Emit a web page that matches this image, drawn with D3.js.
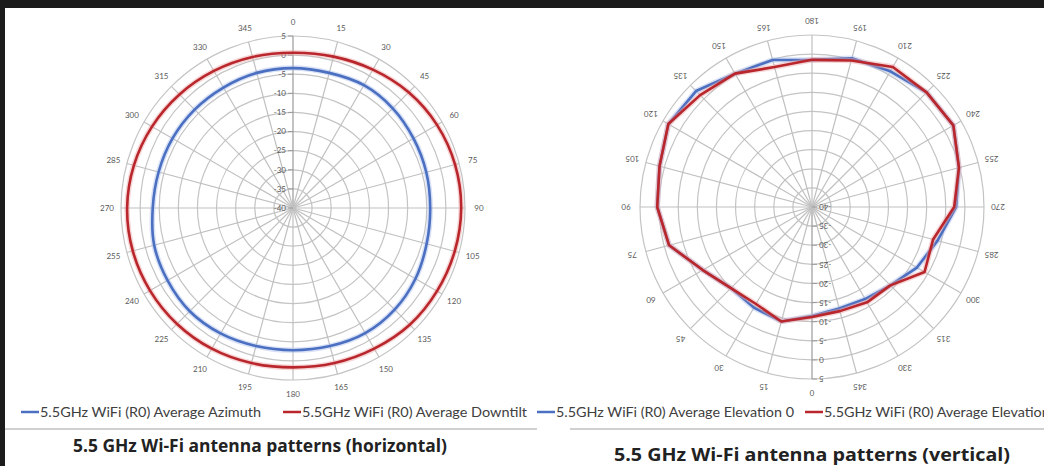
<!DOCTYPE html>
<html>
<head>
<meta charset="utf-8">
<script src="https://cdn.jsdelivr.net/npm/d3@7"></script>
<style>
  body { margin: 0; background: #fff; }
  svg { display: block; font-family: Lato, "Open Sans", sans-serif; }
</style>
</head>
<body>
<div id="chart"></div>
<script>
// angles of the spokes (degrees) and the dB rings
var angles = [0, 15, 30, 45, 60, 75, 90, 105, 120, 135, 150, 165, 180, 195, 210, 225, 240, 255, 270, 285, 300, 315, 330, 345];
var dbTicks = [5, 0, -5, -10, -15, -20, -25, -30, -35, -40];

// horizontal chart (dB per angle above)
var azimuth  = [-3.4, -3.4, -2.9, -3.1, -3.6, -3.9, -4.1, -3.8, -3.0, -2.4, -2.2, -2.6, -2.8, -2.6, -2.1, -1.8, -2.1, -2.4, -3.3, -3.6, -3.6, -3.6, -3.6, -3.4];
var downtilt = [0.6, 1.0, 1.8, 2.8, 3.5, 3.9, 4.0, 3.8, 3.5, 3.2, 2.5, 2.0, 1.7, 2.0, 2.5, 2.9, 3.2, 3.4, 3.4, 3.1, 2.6, 2.0, 1.4, 0.9];

// vertical chart
var elevation0  = [-11.5, -9, -9.6, -10, -7, -1.3, 0.5, 1.3, 3.4, 2.9, 0.3, -0.2, -1.5, 0.3, 1.0, 2.4, 2.7, -0.2, -2.3, -6, -8.3, -11, -12.2, -12.5];
var elevation90 = [-11.2, -9, -10.7, -10, -7, -1.3, 0.5, 1.3, 3.4, 1.4, 0.3, -2.1, -1.5, -0.3, 2.3, 2.4, 2.7, -0.2, -2.8, -7.2, -6, -11, -11.2, -11.8];

var legendLeft  = ["5.5GHz WiFi (R0) Average Azimuth", "5.5GHz WiFi (R0) Average Downtilt"];
var legendRight = ["5.5GHz WiFi (R0) Average Elevation 0", "5.5GHz WiFi (R0) Average Elevation 90"];
var titles = ["5.5 GHz Wi-Fi antenna patterns (horizontal)", "5.5 GHz Wi-Fi antenna patterns (vertical)"];

var blue = "#4b6fc1", red = "#b9262c";

var svg = d3.select("#chart").append("svg")
  .attr("width", 1044)
  .attr("height", 466);

svg.append("rect").attr("width", 1044).attr("height", 466).attr("fill", "#fff");
svg.append("rect").attr("width", 1044).attr("height", 8).attr("fill", "#1b1b1b");
svg.append("rect").attr("y", 0).attr("width", 5).attr("height", 466).attr("fill", "#1b1b1b");

var r = d3.scaleLinear().domain([-40, 5]).range([0, 172]);
var a = d3.scaleLinear().domain([0, 360]).range([0, 2 * Math.PI]);

function drawPolar(cx, cy, turn, series, curve) {
  var g = svg.append("g")
    .attr("transform", "translate(" + cx + "," + cy + ") rotate(" + turn + ")");

  g.selectAll(".ring").data(dbTicks).enter().append("circle")
    .attr("r", function(d) { return r(d); })
    .attr("fill", "none")
    .attr("stroke", "#c4c4c4")
    .attr("stroke-width", 1.2);

  g.selectAll(".spoke").data(angles).enter().append("line")
    .attr("x2", function(d) { return r(5) * Math.sin(a(d)); })
    .attr("y2", function(d) { return -r(5) * Math.cos(a(d)); })
    .attr("stroke", function(d) { return d === 0 ? "#9a9a9a" : "#c0c0c0"; })
    .attr("stroke-width", 1.2);

  g.selectAll(".alabel").data(angles).enter().append("text")
    .attr("x", function(d) { return (r(5) + 14) * Math.sin(a(d)); })
    .attr("y", function(d) { return -(r(5) + 14) * Math.cos(a(d)); })
    .attr("text-anchor", "middle")
    .attr("dy", "0.35em")
    .attr("font-size", 8)
    .attr("fill", "#595959")
    .text(function(d) { return d; });

  // radial axis ticks and labels
  g.selectAll(".tick").data(dbTicks).enter().append("line")
    .attr("x1", -5).attr("x2", 0)
    .attr("y1", function(d) { return -r(d); })
    .attr("y2", function(d) { return -r(d); })
    .attr("stroke", "#9a9a9a");

  g.selectAll(".rlabel").data(dbTicks).enter().append("text")
    .attr("x", -7)
    .attr("y", function(d) { return -r(d); })
    .attr("dy", "0.35em")
    .attr("text-anchor", "end")
    .attr("font-size", 8)
    .attr("fill", "#595959")
    .text(function(d) { return d; });

  var line = d3.lineRadial()
    .angle(function(d, i) { return a(angles[i]); })
    .radius(function(d) { return r(d); })
    .curve(curve);

  series.forEach(function(s) {
    g.append("path")
      .datum(s.values)
      .attr("fill", "none")
      .attr("stroke", s.glow)
      .attr("stroke-opacity", 0.45)
      .attr("stroke-width", 5.5)
      .attr("d", line);
    g.append("path")
      .datum(s.values)
      .attr("fill", "none")
      .attr("stroke", s.color)
      .attr("stroke-width", 2.6)
      .attr("stroke-linejoin", "round")
      .attr("d", line);
  });
}

drawPolar(293, 208, 0, [
  { values: azimuth, color: blue, glow: "#a9bde8" },
  { values: downtilt, color: red, glow: "#eaa3a3" }
], d3.curveCatmullRomClosed);

drawPolar(812, 207, 180, [
  { values: elevation0, color: blue, glow: "#a9bde8" },
  { values: elevation90, color: red, glow: "#eaa3a3" }
], d3.curveLinearClosed);

// legends
function legendItem(x, y, color, label, width) {
  svg.append("line")
    .attr("x1", x).attr("x2", x + 18)
    .attr("y1", y).attr("y2", y)
    .attr("stroke", color)
    .attr("stroke-width", 2.5);
  svg.append("text")
    .attr("x", x + 19)
    .attr("y", y)
    .attr("dy", "0.35em")
    .attr("font-size", 13)
    .attr("fill", "#404040")
    .attr("textLength", width)
    .attr("lengthAdjust", "spacingAndGlyphs")
    .text(label);
}

legendItem(21, 412, blue, legendLeft[0], 221);
legendItem(283, 412, red, legendLeft[1], 225);
legendItem(537, 412, blue, legendRight[0], 238);
legendItem(805, 412, red, legendRight[1], 246);

// separators
svg.append("line").attr("x1", 5).attr("x2", 537).attr("y1", 429).attr("y2", 429)
  .attr("stroke", "#d0d0d0").attr("stroke-width", 2);
svg.append("line").attr("x1", 570).attr("x2", 1044).attr("y1", 429).attr("y2", 429)
  .attr("stroke", "#d0d0d0").attr("stroke-width", 2);

// titles
svg.append("text")
  .attr("x", 73).attr("y", 452)
  .attr("font-family", "'Open Sans', sans-serif")
  .attr("font-weight", "bold")
  .attr("font-size", 17)
  .attr("fill", "#222")
  .attr("textLength", 374).attr("lengthAdjust", "spacingAndGlyphs")
  .text(titles[0]);

svg.append("text")
  .attr("x", 614).attr("y", 461)
  .attr("font-family", "'Open Sans', sans-serif")
  .attr("font-weight", "bold")
  .attr("font-size", 18.5)
  .attr("fill", "#222")
  .attr("textLength", 396).attr("lengthAdjust", "spacingAndGlyphs")
  .text(titles[1]);
</script>
</body>
</html>
